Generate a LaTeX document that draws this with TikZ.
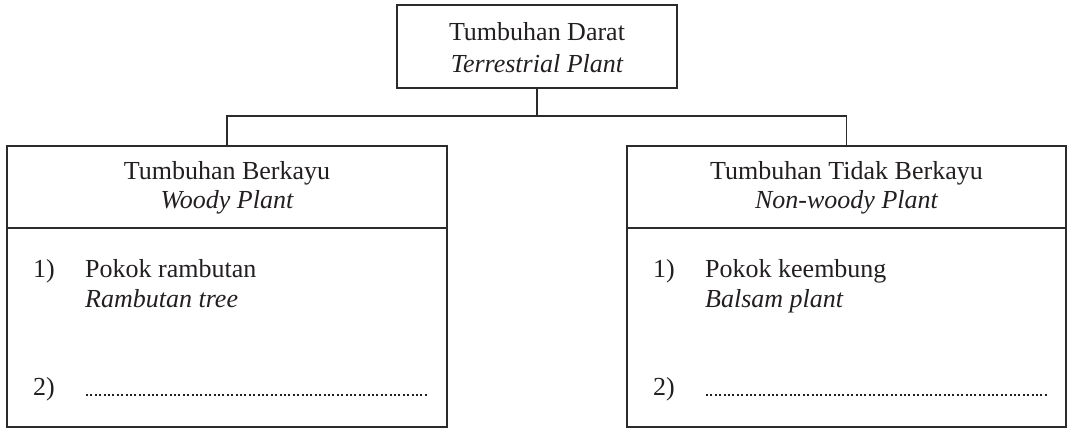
\documentclass[tikz,border=0pt]{standalone}
\usepackage{fontspec}
\setmainfont{Liberation Serif}
\definecolor{ink}{HTML}{231F20}
\definecolor{rule}{HTML}{2B2B2B}
\begin{document}
\begin{tikzpicture}[x=1pt,y=-1pt,
  boxline/.style={draw=rule,line width=1.6pt,inner sep=0pt,outer sep=0pt,anchor=north west},
  lbl/.style={text=ink,inner sep=0pt,anchor=base,font=\fontsize{26}{31}\selectfont},
  lbll/.style={lbl,anchor=base west},
  conn/.style={draw=rule,line width=1.6pt},
  dotline/.style={draw=ink,line width=2.2pt,dash pattern=on 2pt off 2.4pt}]
\useasboundingbox (0,0) rectangle (1067,428);
% boxes
\node[boxline,minimum width=280pt,minimum height=83pt] (root) at (397,5) {};
\node[boxline,minimum width=440pt,minimum height=82pt] (lhead) at (7,146) {};
\node[boxline,minimum width=440pt,minimum height=199pt] (lbody) at (7,228) {};
\node[boxline,minimum width=439pt,minimum height=82pt] (rhead) at (627,146) {};
\node[boxline,minimum width=439pt,minimum height=199pt] (rbody) at (627,228) {};
% connectors
\coordinate (j) at (537,116);
\draw[conn] (root.south) -- (j);
\draw[conn] (lhead.north) |- (j) -| (rhead.north);
% titles
\node[lbl] (t1) at (537,41) {Tumbuhan Darat};
\node[lbl] (t2) at (537,72) {\itshape Terrestrial Plant};
\node[lbl] (l1) at (227,179) {Tumbuhan Berkayu};
\node[lbl] (l2) at (227,208) {\itshape Woody Plant};
\node[lbl] (r1) at (846.5,179) {Tumbuhan Tidak Berkayu};
\node[lbl] (r2) at (846.5,208) {\itshape Non-woody Plant};
% left list
\node[lbll] (la) at (33,277) {1)};
\node[lbll] (lb) at (85,277) {Pokok rambutan};
\node[lbll] (lc) at (85,307) {\itshape Rambutan tree};
\node[lbll] (ld) at (33,395) {2)};
\coordinate (ls) at (86,395);
\coordinate (le) at (428,395);
\draw[dotline] (ls) -- (le);
% right list
\node[lbll] (ra) at (653,277) {1)};
\node[lbll] (rb) at (705,277) {Pokok keembung};
\node[lbll] (rc) at (705,307) {\itshape Balsam plant};
\node[lbll] (rd) at (653,395) {2)};
\coordinate (rs) at (706,395);
\coordinate (re) at (1048,395);
\draw[dotline] (rs) -- (re);
\end{tikzpicture}
\end{document}
